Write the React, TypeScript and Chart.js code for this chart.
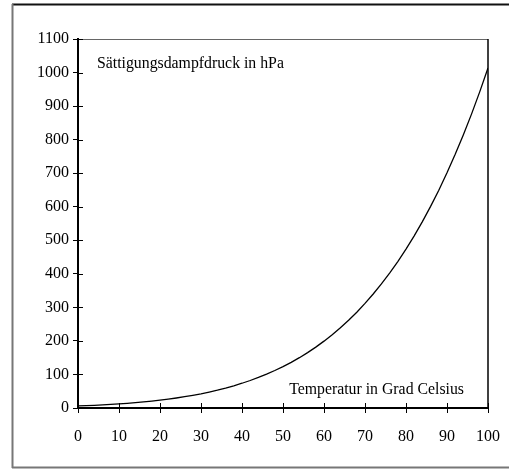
import React, { useEffect, useRef } from "react";
import { Chart, registerables } from "chart.js";

Chart.register(...registerables);

const temperatures = [0, 2, 4, 6, 8, 10, 12, 14, 16, 18, 20, 22, 24, 26, 28, 30, 32, 34, 36, 38, 40, 42, 44, 46, 48, 50, 52, 54, 56, 58, 60, 62, 64, 66, 68, 70, 72, 74, 76, 78, 80, 82, 84, 86, 88, 90, 92, 94, 96, 98, 100];
const pressures = [6.1, 7.1, 8.1, 9.4, 10.7, 12.3, 14.0, 16.0, 18.2, 20.6, 23.4, 26.4, 29.8, 33.6, 37.8, 42.4, 47.6, 53.2, 59.4, 66.3, 73.8, 82.0, 91.0, 100.9, 111.7, 123.4, 136.2, 150.0, 165.1, 181.4, 199.3, 218.4, 239.1, 261.5, 285.6, 311.8, 339.8, 369.9, 402.1, 436.6, 473.7, 513.3, 555.7, 601.0, 649.3, 701.1, 756.1, 814.6, 876.8, 943.1, 1013.3];
const yLabel = "Sättigungsdampfdruck in hPa";
const xLabel = "Temperatur in Grad Celsius";
const FONT = "'Liberation Serif', 'Times New Roman', serif";

const decorPlugin = {
  id: "decor",
  beforeDraw(chart: any) {
    const ctx = chart.ctx;
    ctx.save();
    ctx.fillStyle = "#ffffff";
    ctx.fillRect(0, 0, chart.width, chart.height);
    ctx.lineWidth = 2;
    ctx.strokeStyle = "#111";
    ctx.beginPath();
    ctx.moveTo(12, 4.5);
    ctx.lineTo(chart.width, 4.5);
    ctx.stroke();
    ctx.strokeStyle = "#777";
    ctx.beginPath();
    ctx.moveTo(12.5, 4);
    ctx.lineTo(12.5, 468);
    ctx.moveTo(12, 467.5);
    ctx.lineTo(chart.width, 467.5);
    ctx.stroke();
    ctx.restore();
  },
  afterDraw(chart: any) {
    const ctx = chart.ctx;
    const a = chart.chartArea;
    const xs = chart.scales.x;
    const ys = chart.scales.y;
    ctx.save();
    ctx.lineWidth = 1;
    ctx.strokeStyle = "#666";
    ctx.beginPath();
    ctx.moveTo(a.left, a.top + 0.5);
    ctx.lineTo(a.right, a.top + 0.5);
    ctx.stroke();
    ctx.strokeStyle = "#000";
    ctx.lineWidth = 1.5;
    ctx.beginPath();
    ctx.moveTo(a.right, a.top);
    ctx.lineTo(a.right, a.bottom);
    ctx.stroke();
    ctx.lineWidth = 1;
    ctx.beginPath();
    ys.ticks.forEach((t: any) => {
      const y = Math.round(ys.getPixelForValue(t.value)) + 0.5;
      ctx.moveTo(a.left, y);
      ctx.lineTo(a.left + 5, y);
    });
    xs.ticks.forEach((t: any) => {
      const x = Math.round(xs.getPixelForValue(t.value)) + 0.5;
      ctx.moveTo(x, a.bottom);
      ctx.lineTo(x, a.bottom - 5);
    });
    ctx.stroke();
    ctx.fillStyle = "#000";
    ctx.font = `15.8px ${FONT}`;
    ctx.textBaseline = "alphabetic";
    ctx.textAlign = "left";
    ctx.fillText(yLabel, 97, 68);
    ctx.textAlign = "right";
    ctx.fillText(xLabel, 464, 394);
    ctx.restore();
  },
};

export default function App() {
  const ref = useRef<HTMLCanvasElement | null>(null);
  useEffect(() => {
    if (!ref.current) return;
    const chart = new Chart(ref.current, {
      type: "line",
      data: {
        datasets: [
          {
            data: temperatures.map((t, i) => ({ x: t, y: pressures[i] })),
            borderColor: "#000",
            borderWidth: 1.3,
            pointRadius: 0,
            tension: 0,
            fill: false,
          },
        ],
      },
      options: {
        responsive: false,
        animation: false,
        events: [],
        layout: { padding: { left: 0, top: 39, right: 21, bottom: 0 } },
        plugins: { legend: { display: false }, tooltip: { enabled: false } },
        scales: {
          x: {
            type: "linear",
            min: 0,
            max: 100,
            afterFit: (s: any) => { s.height = 62; s.paddingLeft = 0; s.paddingRight = 0; },
            ticks: { stepSize: 10, color: "#000", padding: 14, font: { family: FONT, size: 16 }, maxRotation: 0, callback: (v: any) => String(v) },
            grid: { display: true, drawOnChartArea: false, drawTicks: true, tickLength: 5, color: "#000", lineWidth: 1 },
            border: { display: true, color: "#000", width: 2 },
          },
          y: {
            type: "linear",
            min: 0,
            max: 1100,
            afterFit: (s: any) => { s.width = 78; s.paddingTop = 0; s.paddingBottom = 0; },
            ticks: { stepSize: 100, color: "#000", padding: 4, font: { family: FONT, size: 16 }, callback: (v: any) => String(v) },
            grid: { display: true, drawOnChartArea: false, drawTicks: true, tickLength: 5, color: "#000", lineWidth: 1 },
            border: { display: true, color: "#000", width: 2 },
          },
        },
      },
      plugins: [decorPlugin],
    });
    return () => chart.destroy();
  }, []);
  return (
    <div style={{ position: "absolute", left: 0, top: 0, width: 509, height: 470 }}>
      <canvas ref={ref} width={509} height={470} style={{ display: "block" }} />
    </div>
  );
}
